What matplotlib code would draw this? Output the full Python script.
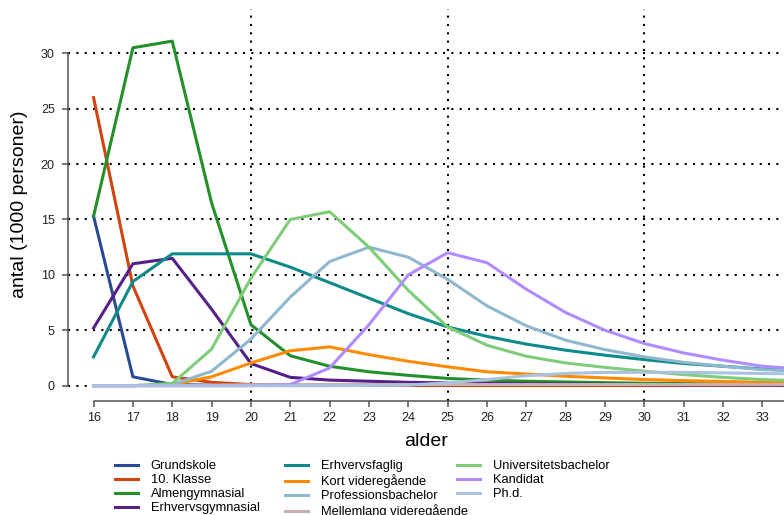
import matplotlib
matplotlib.use("Agg")
import matplotlib.pyplot as plt

plt.rcParams['font.family'] = ['Liberation Sans', 'DejaVu Sans']

# ages on the x axis
alder = list(range(16, 35))

# number of persons (1000) by age and education level
grundskole = [15.3, 0.8, 0.1, 0.05, 0.03, 0.02, 0.02, 0.02, 0.02, 0.02,
              0.02, 0.02, 0.02, 0.02, 0.02, 0.02, 0.02, 0.02, 0.02]
klasse10 = [26.0, 9.0, 0.8, 0.3, 0.1, 0.05, 0.03, 0.02, 0.02, 0.02,
            0.02, 0.02, 0.02, 0.02, 0.02, 0.02, 0.02, 0.02, 0.02]
almengymnasial = [15.3, 30.5, 31.1, 16.5, 5.5, 2.7, 1.75, 1.25, 0.93, 0.65,
                  0.5, 0.4, 0.33, 0.27, 0.22, 0.19, 0.16, 0.14, 0.12]
erhvervsgymnasial = [5.2, 11.0, 11.5, 6.9, 2.0, 0.75, 0.5, 0.4, 0.3, 0.25,
                     0.22, 0.18, 0.15, 0.12, 0.1, 0.08, 0.07, 0.06, 0.05]
erhvervsfaglig = [2.6, 9.4, 11.9, 11.9, 11.9, 10.7, 9.3, 7.9, 6.5, 5.3,
                  4.45, 3.75, 3.2, 2.75, 2.35, 2.0, 1.75, 1.5, 1.35]
kort_videregaaende = [0.0, 0.0, 0.1, 0.8, 2.05, 3.15, 3.5, 2.8, 2.2, 1.7,
                      1.25, 1.05, 0.85, 0.7, 0.55, 0.45, 0.38, 0.3, 0.25]
professionsbachelor = [0.0, 0.0, 0.1, 1.3, 4.2, 8.0, 11.2, 12.5, 11.6, 9.6,
                       7.2, 5.4, 4.1, 3.25, 2.6, 2.1, 1.75, 1.45, 1.3]
mellemlang = [0.0, 0.0, 0.02, 0.05, 0.08, 0.1, 0.1, 0.1, 0.1, 0.1,
              0.1, 0.1, 0.1, 0.1, 0.1, 0.1, 0.1, 0.1, 0.1]
universitetsbachelor = [0.0, 0.0, 0.2, 3.3, 9.7, 15.0, 15.7, 12.5, 8.6, 5.3,
                        3.65, 2.65, 2.05, 1.65, 1.3, 1.0, 0.75, 0.55, 0.45]
kandidat = [0.0, 0.0, 0.0, 0.0, 0.0, 0.1, 1.6, 5.5, 10.0, 12.0,
            11.1, 8.7, 6.6, 5.0, 3.8, 2.95, 2.3, 1.75, 1.5]
phd = [0.0, 0.0, 0.0, 0.0, 0.0, 0.0, 0.0, 0.02, 0.05, 0.25,
       0.55, 0.9, 1.1, 1.2, 1.2, 1.2, 1.15, 1.1, 1.05]

series = [
    ("Grundskole", grundskole, "#2b4a94"),
    ("10. Klasse", klasse10, "#d2440f"),
    ("Almengymnasial", almengymnasial, "#23902a"),
    ("Erhvervsgymnasial", erhvervsgymnasial, "#55208a"),
    ("Erhvervsfaglig", erhvervsfaglig, "#0e8a8a"),
    ("Kort videregående", kort_videregaaende, "#ff8c00"),
    ("Professionsbachelor", professionsbachelor, "#8fb8ce"),
    ("Mellemlang videregående", mellemlang, "#c9b0b0"),
    ("Universitetsbachelor", universitetsbachelor, "#7fcc7a"),
    ("Kandidat", kandidat, "#b08cff"),
    ("Ph.d.", phd, "#aac2e0"),
]

y_ticks = [0, 5, 10, 15, 20, 25, 30]
x_ticks = list(range(16, 34))
v_lines = [20, 25, 30]

fig = plt.figure(figsize=(7.84, 5.15), dpi=100)
ax = fig.add_axes([68 / 784, (515 - 400.5) / 515, 1 - 68 / 784, (400.5 - 9) / 515])

# dotted grid, drawn under the data
for yv in y_ticks:
    ax.axhline(yv, color="black", linestyle=(0, (1, 3)), linewidth=1.5, zorder=1)
for xv in v_lines:
    ax.axvline(xv, color="black", linestyle=(0, (1, 3)), linewidth=1.5, zorder=1)

handles = []
for name, vals, col in series:
    ln, = ax.plot(alder, vals, color=col, linewidth=2.2, label=name, zorder=2)
    handles.append(ln)

ax.set_xlim(15.35, 33.55)
ax.set_ylim(-1.34, 34.0)

for s in ["top", "right"]:
    ax.spines[s].set_visible(False)
ax.spines["left"].set_bounds(0, 30)
ax.spines["bottom"].set_bounds(16, 33.55)
for s in ["left", "bottom"]:
    ax.spines[s].set_color("#555555")
    ax.spines[s].set_linewidth(1.1)

ax.set_yticks(y_ticks)
ax.set_xticks(x_ticks)
ax.tick_params(axis="both", colors="#555555", labelcolor="#222222",
               labelsize=9, length=4.5, width=1.1)
ax.tick_params(axis="y", pad=5)
ax.tick_params(axis="x", pad=4)

ax.set_xlabel("alder", fontsize=14, labelpad=6)
ax.set_ylabel("antal (1000 personer)", fontsize=14, labelpad=9)

# legend in three columns, last row runs off the bottom edge
cols = [handles[0:4], handles[4:8], handles[8:11]]
col_x = [115 / 784, 285 / 784, 457 / 784]
for hs, cx in zip(cols, col_x):
    fig.legend(handles=hs, loc="upper left", bbox_to_anchor=(cx, 1 - 460 / 515),
               frameon=False, fontsize=9.3, handlelength=1.75, handletextpad=1.0,
               labelspacing=0.16, borderpad=0, borderaxespad=0)

fig.savefig("out.png", dpi=100)
plt.close(fig)
